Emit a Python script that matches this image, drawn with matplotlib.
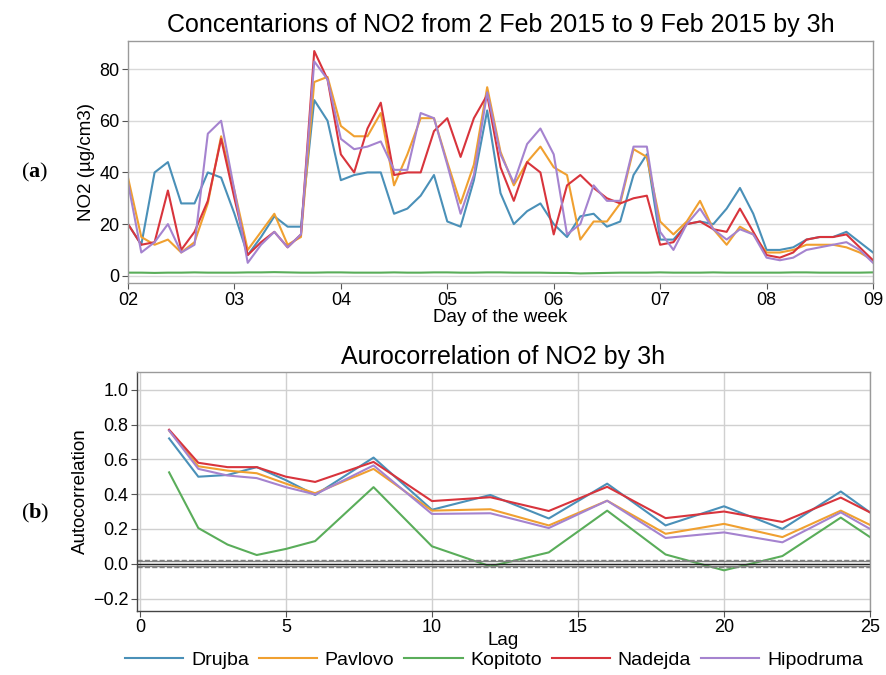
import matplotlib
matplotlib.use("Agg")
import matplotlib.pyplot as plt
import matplotlib.dates as mdates
import numpy as np
import pandas as pd
from datetime import datetime

# ---------------- data ----------------
stations = ["Drujba", "Pavlovo", "Kopitoto", "Nadejda", "Hipodruma"]
colors = ["#4a90b8", "#f0a030", "#5aad5a", "#d8343c", "#a583cf"]

times = pd.date_range("2015-02-02 00:00", periods=57, freq="3h")

drujba = [20, 12, 40, 44, 28, 28, 40, 38, 24, 8, 15, 23, 19, 19, 68, 60, 37, 39, 40,
          40, 24, 26, 31, 39, 21, 19, 37, 64, 32, 20, 25, 28, 20, 15, 23, 24, 19,
          21, 39, 47, 14, 14, 20, 21, 20, 26, 34, 24, 10, 10, 11, 14, 15, 15, 17, 13, 9]
pavlovo = [38, 15, 12, 14, 9, 13, 28, 54, 33, 10, 17, 24, 12, 15, 75, 77, 58, 54, 54,
           63, 35, 47, 61, 61, 44, 28, 43, 73, 48, 35, 44, 50, 42, 39, 14, 21, 21,
           28, 49, 46, 21, 16, 21, 29, 18, 12, 19, 16, 9, 9, 10, 12, 12, 12, 11, 9, 6]
kopitoto = [1.2, 1.2, 1.1, 1.2, 1.2, 1.3, 1.2, 1.2, 1.2, 1.3, 1.3, 1.4, 1.3, 1.2, 1.2, 1.3,
            1.3, 1.2, 1.2, 1.2, 1.3, 1.2, 1.2, 1.3, 1.3, 1.2, 1.2, 1.3, 1.3, 1.2, 1.2, 1.2,
            1.1, 1.1, 0.9, 1.0, 1.1, 1.2, 1.2, 1.2, 1.3, 1.2, 1.2, 1.2, 1.3, 1.2, 1.2, 1.2,
            1.2, 1.2, 1.3, 1.3, 1.2, 1.2, 1.2, 1.2, 1.3]
nadejda = [20, 12, 13, 33, 10, 17, 29, 53, 30, 8, 13, 17, 11, 16, 87, 76, 47, 40, 57,
           67, 39, 40, 40, 56, 61, 46, 61, 70, 42, 29, 44, 40, 16, 35, 39, 34, 30,
           28, 30, 31, 12, 13, 20, 21, 18, 17, 26, 17, 8, 7, 9, 14, 15, 15, 16, 11, 6]
hipodruma = [36, 9, 13, 20, 9, 12, 55, 60, 33, 5, 12, 17, 11, 16, 83, 76, 53, 49, 50,
             52, 41, 41, 63, 61, 43, 24, 39, 71, 47, 36, 51, 57, 47, 16, 20, 35, 29,
             29, 50, 50, 17, 10, 20, 26, 18, 14, 18, 16, 7, 6, 7, 10, 11, 12, 13, 10, 5]
conc = [drujba, pavlovo, kopitoto, nadejda, hipodruma]

lags = [1, 2, 3, 4, 5, 6, 8, 10, 12, 14, 16, 18, 20, 22, 24, 25]
ac_drujba = [0.72, 0.50, 0.51, 0.555, 0.48, 0.395, 0.61, 0.31, 0.395, 0.26, 0.46, 0.22, 0.33, 0.20, 0.415, 0.295]
ac_pavlovo = [0.765, 0.56, 0.535, 0.52, 0.46, 0.405, 0.545, 0.305, 0.313, 0.22, 0.362, 0.172, 0.229, 0.153, 0.305, 0.223]
ac_kopitoto = [0.525, 0.205, 0.11, 0.05, 0.085, 0.13, 0.44, 0.10, -0.015, 0.065, 0.305, 0.053, -0.038, 0.044, 0.265, 0.153]
ac_nadejda = [0.77, 0.58, 0.555, 0.555, 0.50, 0.47, 0.585, 0.36, 0.382, 0.303, 0.442, 0.262, 0.30, 0.24, 0.38, 0.295]
ac_hipodruma = [0.765, 0.545, 0.507, 0.492, 0.44, 0.398, 0.565, 0.286, 0.29, 0.205, 0.362, 0.148, 0.18, 0.123, 0.295, 0.20]
acs = [ac_drujba, ac_pavlovo, ac_kopitoto, ac_nadejda, ac_hipodruma]

conf95 = 0.0152
conf99 = 0.0200

# ---------------- style ----------------
plt.rcParams["font.family"] = ["Liberation Sans", "DejaVu Sans"]
plt.rcParams["mathtext.fontset"] = "custom"
plt.rcParams["mathtext.rm"] = "Liberation Serif"
plt.rcParams["mathtext.bf"] = "Liberation Serif:bold"

W, H = 886, 675
fig = plt.figure(figsize=(W / 100, H / 100), dpi=100)

def frac(l, t, r, b):
    return [l / W, 1 - b / H, (r - l) / W, (b - t) / H]

ax1 = fig.add_axes(frac(128, 40.7, 873, 283.5))
ax2 = fig.add_axes(frac(136.7, 372.3, 870, 610.7))

tick_fs = 13
lab_fs = 13.5
for ax in (ax1, ax2):
    for s in ax.spines.values():
        s.set_color("#9a9a9a")
        s.set_linewidth(1.0)
    ax.tick_params(labelsize=tick_fs, length=4, width=0.8, color="#555555", pad=2)

# top chart
for vals, name, c in zip(conc, stations, colors):
    ax1.plot(times, vals, color=c, lw=1.5, label=name)
ax1.set_xlim(datetime(2015, 2, 2), datetime(2015, 2, 9))
ax1.set_ylim(-3, 91)
ax1.set_yticks([0, 20, 40, 60, 80])
ax1.xaxis.set_major_locator(mdates.DayLocator())
ax1.xaxis.set_major_formatter(mdates.DateFormatter("%d"))
ax1.grid(axis="y", color="#d9d9d9", lw=1.0)
ax1.set_axisbelow(True)
ax1.set_title("Concentarions of NO2 from 2 Feb 2015 to 9 Feb 2015 by 3h", fontsize=18, pad=6)
ax1.set_xlabel("Day of the week", fontsize=lab_fs, labelpad=0)
ax1.set_ylabel("NO2 (µg/cm3)", fontsize=lab_fs, labelpad=3)

# bottom chart
for vals, name, c in zip(acs, stations, colors):
    ax2.plot(lags, vals, color=c, lw=1.5, label=name)
ax2.axhline(conf99, color="#808080", lw=1.0, ls="--")
ax2.axhline(conf95, color="#808080", lw=1.0)
ax2.axhline(0, color="#222222", lw=1.0)
ax2.axhline(-conf95, color="#808080", lw=1.0)
ax2.axhline(-conf99, color="#808080", lw=1.0, ls="--")
ax2.set_xlim(-0.11, 25)
ax2.set_ylim(-0.27, 1.1)
ax2.set_xticks([0, 5, 10, 15, 20, 25])
ax2.set_yticks([-0.2, 0.0, 0.2, 0.4, 0.6, 0.8, 1.0])
ax2.grid(color="#d0d0d0", lw=1.0)
ax2.set_axisbelow(True)
ax2.spines["left"].set_color("#444444")
ax2.spines["bottom"].set_color("#444444")
ax2.set_title("Aurocorrelation of NO2 by 3h", fontsize=18, pad=6)
ax2.set_xlabel("Lag", fontsize=lab_fs, labelpad=-3)
ax2.set_ylabel("Autocorrelation", fontsize=lab_fs, labelpad=3)

handles, labels = ax2.get_legend_handles_labels()
fig.legend(handles[:5], labels[:5], loc="center", bbox_to_anchor=(494 / W, 1 - 660 / H),
           ncol=5, frameon=False, fontsize=14, handlelength=3.0, columnspacing=0.5,
           handletextpad=0.4)

fig.text(35 / W, 1 - 172 / H, r"($\mathbf{a}$)", fontsize=16, ha="center", va="center",
         family="Liberation Serif")
fig.text(35 / W, 1 - 513 / H, r"($\mathbf{b}$)", fontsize=16, ha="center", va="center",
         family="Liberation Serif")

fig.savefig("out.png", dpi=100)
